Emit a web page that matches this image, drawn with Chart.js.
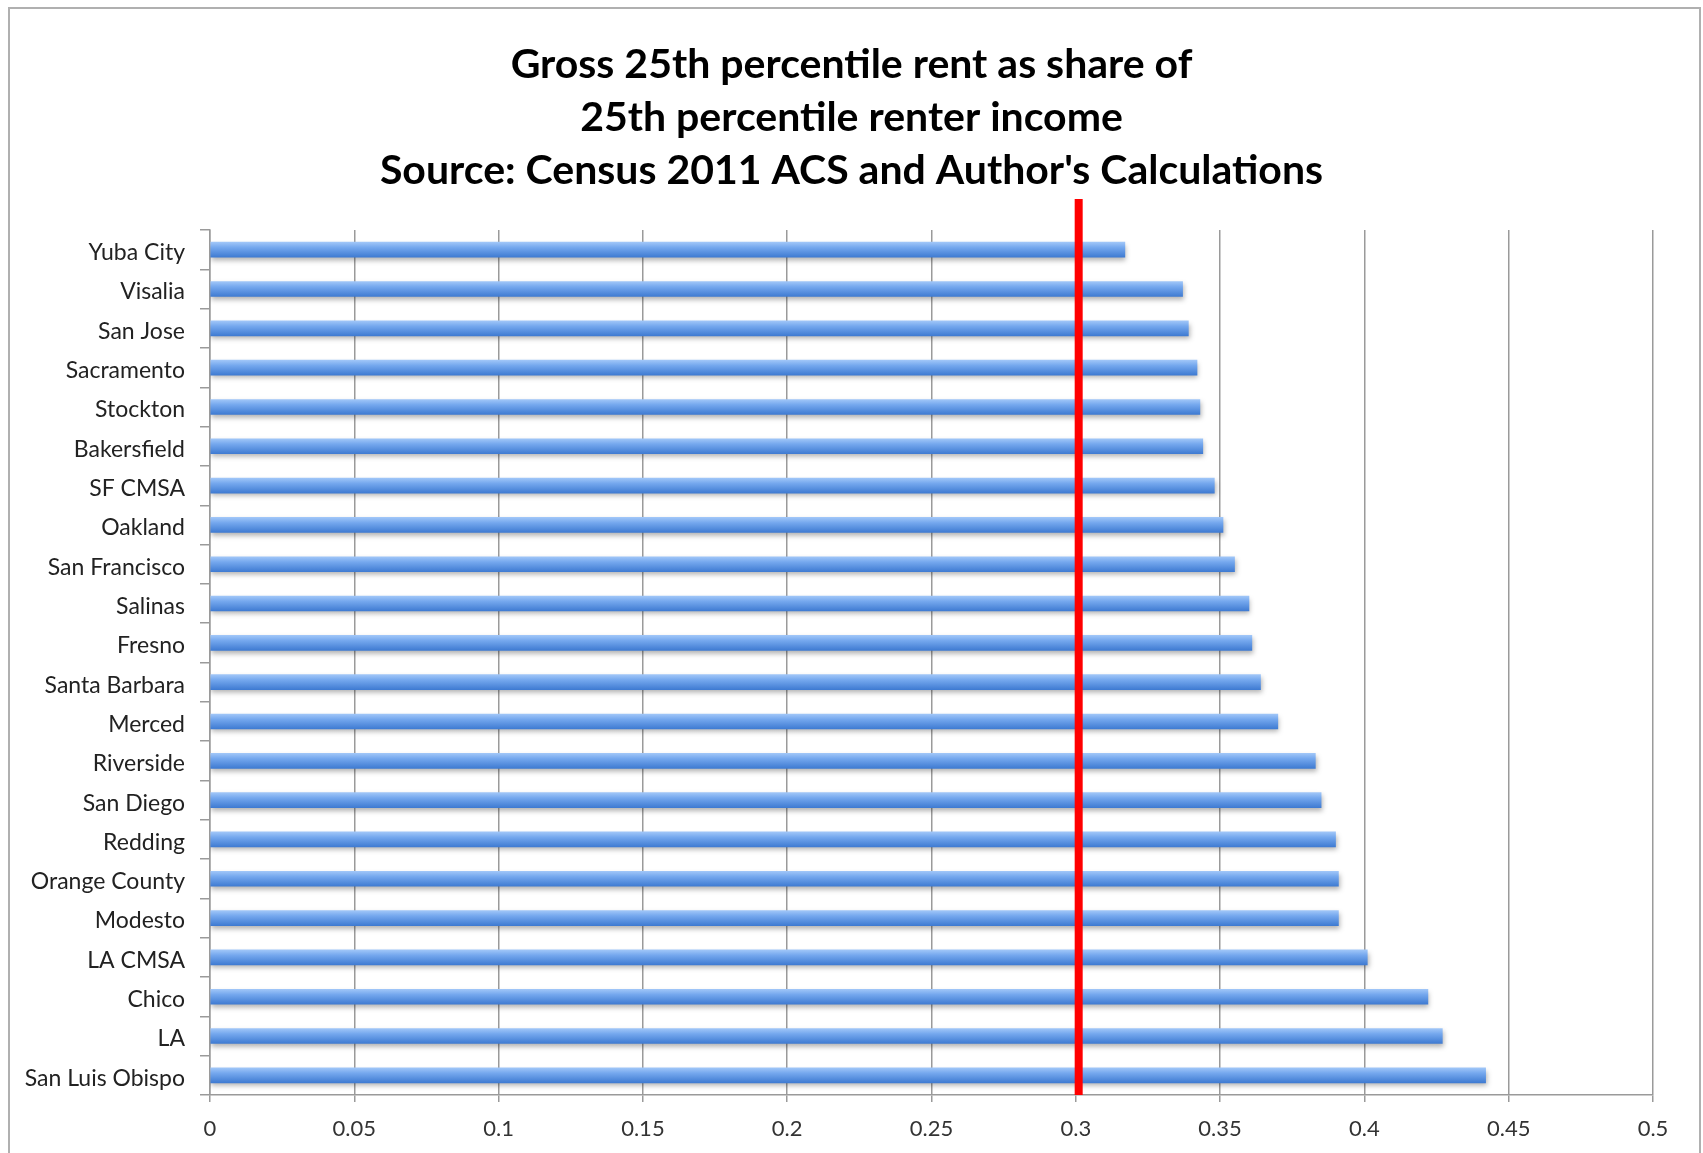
<!DOCTYPE html>
<html>
<head>
<meta charset="utf-8">
<script src="https://cdn.jsdelivr.net/npm/chart.js@4.4.1/dist/chart.umd.min.js"></script>
<style>
  html, body { margin: 0; padding: 0; background: #fff; }
  #wrap { width: 1703px; height: 1153px; position: relative; }
</style>
</head>
<body>
<div id="wrap"><canvas id="c" width="1703" height="1153"></canvas></div>
<script>
const titleLines = [
  'Gross 25th percentile rent as share of',
  '25th percentile renter income',
  "Source: Census 2011 ACS and Author's Calculations"
];
const cities = [
  'Yuba City', 'Visalia', 'San Jose', 'Sacramento', 'Stockton', 'Bakersfield',
  'SF CMSA', 'Oakland', 'San Francisco', 'Salinas', 'Fresno', 'Santa Barbara',
  'Merced', 'Riverside', 'San Diego', 'Redding', 'Orange County', 'Modesto',
  'LA CMSA', 'Chico', 'LA', 'San Luis Obispo'
];
const rentShare = [
  0.317, 0.337, 0.339, 0.342, 0.343, 0.344,
  0.348, 0.351, 0.355, 0.360, 0.361, 0.364,
  0.370, 0.383, 0.385, 0.390, 0.391, 0.391,
  0.401, 0.422, 0.427, 0.442
];
const xTickLabels = ['0', '0.05', '0.1', '0.15', '0.2', '0.25', '0.3', '0.35', '0.4', '0.45', '0.5'];
const thresholdValue = [0.301];

const framePlugin = {
  id: 'frame',
  beforeDraw(chart) {
    const ctx = chart.ctx;
    ctx.save();
    ctx.fillStyle = '#ffffff';
    ctx.fillRect(0, 0, chart.width, chart.height);
    ctx.strokeStyle = '#b0b0b0';
    ctx.lineWidth = 2;
    ctx.strokeRect(9, 8, 1691, 1200);
    ctx.restore();
  }
};

function barGradient(c) {
  const chart = c.chart;
  const ys = chart.scales && chart.scales.y;
  if (!chart.chartArea || !ys || c.dataIndex === undefined) return '#6a9ee8';
  const yc = ys.getPixelForValue(c.dataIndex);
  const h = 15;
  const g = chart.ctx.createLinearGradient(0, yc - h / 2, 0, yc + h / 2);
  g.addColorStop(0, '#a0c6f8');
  g.addColorStop(0.35, '#75a8ee');
  g.addColorStop(1, '#3f7bd2');
  return g;
}

const barStylePlugin = {
  id: 'barStyle',
  beforeDatasetsDraw(chart) {
    const ctx = chart.ctx;
    ctx.save();
    ctx.shadowColor = 'rgba(0,0,0,0.3)';
    ctx.shadowBlur = 5;
    ctx.shadowOffsetX = 1;
    ctx.shadowOffsetY = 3;
  },
  afterDatasetsDraw(chart) {
    chart.ctx.restore();
    const ctx = chart.ctx;
    const xs = chart.scales.x;
    const area = chart.chartArea;
    const x = xs.getPixelForValue(thresholdValue[0]);
    ctx.save();
    ctx.strokeStyle = '#ff0000';
    ctx.lineWidth = 8;
    ctx.beginPath();
    ctx.moveTo(x, area.top - 31);
    ctx.lineTo(x, area.bottom);
    ctx.stroke();
    ctx.restore();
  }
};

new Chart(document.getElementById('c'), {
  type: 'bar',
  data: {
    labels: cities,
    datasets: [{
      data: rentShare,
      backgroundColor: barGradient,
      borderWidth: 0,
      barThickness: 15
    }]
  },
  options: {
    indexAxis: 'y',
    responsive: false,
    animation: false,
    layout: { padding: { left: 0, right: 0, top: 0, bottom: 0 } },
    plugins: {
      legend: { display: false },
      tooltip: { enabled: false },
      title: {
        display: true,
        text: titleLines,
        color: '#000',
        font: { family: 'Lato', size: 41, weight: 'bold', lineHeight: 1.293 },
        padding: { top: 38, bottom: 33 }
      }
    },
    scales: {
      x: {
        type: 'linear',
        min: 0,
        max: 0.5,
        ticks: {
          stepSize: 0.05,
          color: '#333',
          font: { family: 'Lato', size: 22 },
          padding: 14,
          callback: (v, i) => xTickLabels[i]
        },
        grid: { color: '#9a9a9a', lineWidth: 1.5, tickLength: 7, drawTicks: true },
        border: { display: true, color: '#9a9a9a', width: 1.5 },
        afterFit(s) { s.height = 58; }
      },
      y: {
        offset: true,
        ticks: {
          color: '#222',
          font: { family: 'Lato', size: 23 },
          padding: 15,
          labelOffset: 3,
          autoSkip: false
        },
        grid: { offset: true, drawOnChartArea: false, drawTicks: true, tickLength: 10, color: '#9a9a9a', lineWidth: 1.5 },
        border: { display: true, color: '#9a9a9a', width: 1.5 },
        afterFit(s) { s.width = 210; }
      },
      yRight: {
        type: 'linear',
        position: 'right',
        display: true,
        ticks: { display: false },
        grid: { display: false, drawTicks: false },
        border: { display: false },
        afterFit(s) { s.width = 50; }
      }
    }
  },
  plugins: [framePlugin, barStylePlugin]
});
</script>
</body>
</html>
